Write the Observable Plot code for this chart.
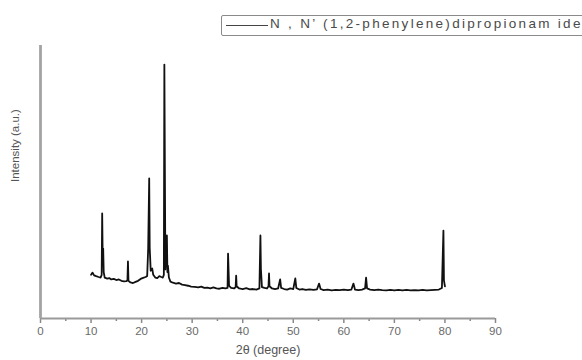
<!DOCTYPE html>
<html>
<head>
<meta charset="utf-8">
<script src="https://cdn.jsdelivr.net/npm/d3@7"></script>
<script src="https://cdn.jsdelivr.net/npm/@observablehq/plot@0.6"></script>
<style>
  html, body { margin: 0; padding: 0; background: #fff; overflow: hidden; }
  #wrap { position: relative; width: 582px; height: 360px; overflow: hidden; }
  #legend { position: absolute; left: 221px; top: 15px; width: 420px; height: 19px;
    border: 1.5px solid #8a8a8a; border-radius: 2px; box-sizing: content-box; }
  #legend .sw { position: absolute; left: 4px; top: 9px; width: 42px; height: 0; border-top: 1.3px solid #444; }
  #legend .tx { position: absolute; left: 48px; top: 0px; font: 13.5px "Liberation Sans", Arial, sans-serif;
    color: #4a4a4a; letter-spacing: 2.3px; white-space: nowrap; }
</style>
</head>
<body>
<div id="wrap">
  <div id="chart"></div>
  <div id="legend"><div class="sw"></div><div class="tx" id="legtext"></div></div>
</div>
<script>
// Data
const seriesName = "N , N’ (1,2-phenylene)dipropionam ide";
const xLabel = "2θ (degree)";
const yLabel = "Intensity (a.u.)";
const xTicks = [0, 10, 20, 30, 40, 50, 60, 70, 80, 90];
const xMinorTicks = [5, 15, 25, 35, 45, 55, 65, 75, 85];

const twoTheta = [
  10.0, 10.3, 10.6, 11.0, 11.5, 11.9, 12.1, 12.2, 12.3, 12.4, 12.5, 12.7, 13.2, 13.6, 14.0, 14.5,
  15.0, 15.5, 16.0, 16.5, 17.0, 17.2, 17.3, 17.4, 17.8, 18.3, 18.8, 19.3, 19.8, 20.3, 20.8, 21.1,
  21.3, 21.5, 21.6, 21.8, 22.1, 22.3, 22.7, 23.1, 23.5, 23.9, 24.2, 24.4, 24.5, 24.7, 25.0, 25.1,
  25.2, 25.4, 25.7, 26.2, 26.8, 27.4, 28.0, 28.6, 29.2, 29.8, 30.5, 31.2, 31.8, 32.4, 33.0, 33.6,
  34.2, 34.8, 35.4, 36.0, 36.6, 37.0, 37.1, 37.3, 37.7, 38.3, 38.6, 38.7, 38.8, 39.3, 40.0, 40.7,
  41.4, 42.0, 42.7, 43.3, 43.5, 43.6, 43.8, 44.3, 44.8, 45.1, 45.2, 45.3, 45.8, 46.4, 47.0, 47.4,
  47.6, 48.2, 48.8, 49.4, 50.0, 50.4, 50.6, 51.2, 51.8, 52.5, 53.2, 54.0, 54.7, 55.1, 55.4, 56.0,
  56.8, 57.6, 58.4, 59.2, 60.0, 60.8, 61.5, 61.9, 62.2, 62.9, 63.6, 64.2, 64.4, 64.6, 65.2, 66.0,
  66.8, 67.6, 68.4, 69.2, 70.0, 70.8, 71.6, 72.4, 73.2, 74.0, 74.8, 75.6, 76.4, 77.2, 78.0, 78.8,
  79.4, 79.7, 79.8, 80.0
];
const intensity = [
  160, 168, 158, 155, 152, 150, 160, 385, 230, 256, 170, 150, 146, 148, 143, 145,
  141, 143, 138, 136, 137, 140, 209, 138, 132, 130, 134, 138, 145, 149, 152, 156,
  256, 513, 260, 175, 183, 160, 150, 148, 155, 152, 150, 160, 930, 180, 304, 170,
  194, 150, 135, 131, 128, 130, 124, 122, 120, 117, 116, 114, 117, 112, 113, 110,
  114, 110, 109, 112, 110, 112, 238, 120, 112, 110, 115, 157, 118, 110, 108, 111,
  107, 108, 106, 110, 304, 180, 115, 112, 110, 118, 165, 118, 110, 108, 110, 143,
  112, 108, 106, 110, 108, 147, 112, 106, 108, 105, 107, 105, 107, 128, 108, 104,
  106, 103, 105, 104, 106, 104, 106, 128, 106, 104, 106, 110, 150, 110, 106, 104,
  106, 104, 103, 105, 103, 105, 103, 105, 103, 104, 103, 105, 103, 104, 105, 106,
  112, 322, 140, 118
];

const data = twoTheta.map((x, i) => ({x, y: intensity[i]}));
document.getElementById("legtext").textContent = seriesName;

const font = "'Liberation Sans', Arial, sans-serif";
const plot = Plot.plot({
  width: 582,
  height: 360,
  marginLeft: 40,
  marginRight: 87,
  marginTop: 45,
  marginBottom: 42,
  style: {fontFamily: font, fontSize: "11.5px", color: "#666", background: "#fff"},
  x: {domain: [0, 90]},
  y: {domain: [0, 1000], axis: null},
  marks: [
    Plot.axisX({ticks: xTicks, tickSize: 5, tickPadding: 3, stroke: "#888", strokeWidth: 1.5,
      fill: "#6a6a6a", label: null, tickFormat: d => String(d)}),
    Plot.axisX({ticks: xMinorTicks, tickSize: 3, stroke: "#888", strokeWidth: 1.5, text: null, label: null}),
    Plot.ruleY([0], {stroke: "#9a9a9a", strokeWidth: 2.2}),
    Plot.ruleX([0], {y1: 0, y2: 1000, stroke: "#a3a3a3", strokeWidth: 2.8}),
    Plot.line(data, {x: "x", y: "y", stroke: "#111", strokeWidth: 1.8, strokeLinejoin: "round"}),
    Plot.text([yLabel], {frameAnchor: "left", dx: -25, rotate: -90, fontSize: 11.5, fill: "#555"}),
    Plot.text([xLabel], {frameAnchor: "bottom", dy: 35, fontSize: 12.5, fill: "#555"})
  ]
});
document.getElementById("chart").appendChild(plot);
</script>
</body>
</html>
